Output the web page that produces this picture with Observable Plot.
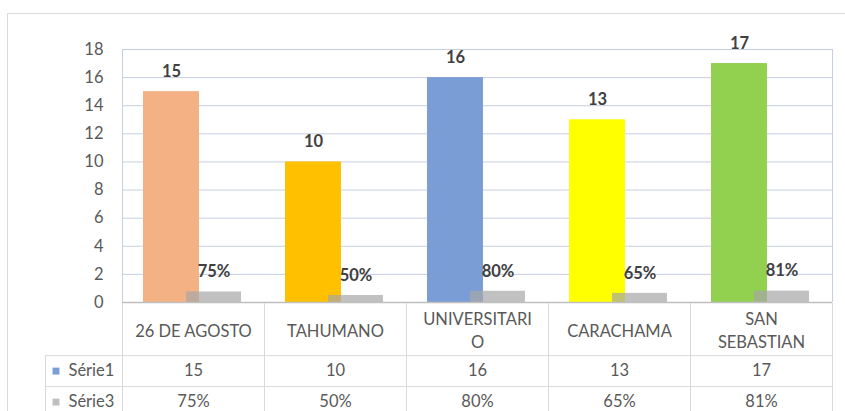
<!DOCTYPE html>
<html><head><meta charset="utf-8">
<script src="https://cdn.jsdelivr.net/npm/d3@7"></script>
<script src="https://cdn.jsdelivr.net/npm/@observablehq/plot@0.6"></script>
<style>
body{margin:0;background:#fff;font-family:Lato,sans-serif;overflow:hidden;}
#wrap{position:absolute;left:0;top:0;}
#frame{position:absolute;left:7px;top:13px;width:900px;height:500px;border:1.5px solid #d9d9d9;z-index:2;pointer-events:none;}
#wrap svg{display:block;}
</style></head><body>
<div id="wrap"></div>
<div id="frame"></div>
<script>
// ---- data ----
const categories = ["26 DE AGOSTO", "TAHUMANO", "UNIVERSITARIO", "CARACHAMA", "SAN SEBASTIAN"];
const categoryLabels = ["26 DE AGOSTO", "TAHUMANO", "UNIVERSITARI\nO", "CARACHAMA", "SAN\nSEBASTIAN"];
const serie1 = [15, 10, 16, 13, 17];
const serie3 = [0.75, 0.50, 0.80, 0.65, 0.81];
const serie3Labels = ["75%", "50%", "80%", "65%", "81%"];
const seriesNames = ["Série1", "Série3"];
const yTicks = [0, 2, 4, 6, 8, 10, 12, 14, 16, 18];

// ---- styles ----
const barColors = ["#f4b183", "#ffc000", "#7b9dd6", "#ffff00", "#92d050"];
const legendColors = ["#7b9dd6", "#bfbfbf"];
const textColor = "#595959";
const font = "Lato, sans-serif";

// layout (category units: each category is one unit wide; header column is left of 0)
const headerW = 77 / 142;
const xDomain = [-headerW, 5];
const s1 = [0.148, 0.542];
const s3 = [0.451, 0.838];

const rows1 = categories.map((c, i) => ({i, c, v: serie1[i], color: barColors[i]}));
const rows3 = categories.map((c, i) => ({i, c, v: serie3[i], label: serie3Labels[i]}));

const common = {
  width: 845, marginLeft: 45, marginRight: 13,
  x: {type: "linear", domain: xDomain, axis: null},
  color: {type: "identity"},
  style: {fontFamily: font, background: "transparent", overflow: "visible"}
};

const chart = Plot.plot({
  ...common,
  height: 303, marginTop: 49, marginBottom: 1,
  y: {domain: [0, 18], axis: null},
  marks: [
    Plot.ruleY(yTicks.filter(d => d > 0), {x1: 0, x2: 5, stroke: "#c5cee0", strokeWidth: 1}),
    Plot.ruleX([0, 5], {y1: 0, y2: 18, stroke: "#c5cee0"}),
    Plot.text(yTicks, {x: 0, y: d => d, dx: -19, textAnchor: "end", fill: textColor, fontSize: 16.5}),
    Plot.rect(rows1, {x1: d => d.i + s1[0], x2: d => d.i + s1[1], y1: 0, y2: "v", fill: "color"}),
    Plot.rect(rows3, {x1: d => d.i + s3[0], x2: d => d.i + s3[1], y1: 0, y2: "v", fill: "#a6a6a6", fillOpacity: 0.7}),
    Plot.ruleY([0], {x1: 0, x2: 5, stroke: "#bfbfbf", strokeWidth: 1.5}),
    Plot.text(rows1, {x: d => d.i + (s1[0] + s1[1]) / 2, y: "v", dy: -20, text: d => String(d.v), fontWeight: "bold", fontSize: 16.5, fill: "#404040"}),
    Plot.text(rows3, {x: d => d.i + (s3[0] + s3[1]) / 2, y: "v", dy: -20, text: "label", fontWeight: "bold", fontSize: 16.5, fill: "#404040"})
  ]
});

// table rows (in row units)
const rowEdges = [0, 1.68, 2.68, 3.68];
const tableBottom = 108 / 31;
const table = Plot.plot({
  ...common,
  height: 108, marginTop: 0, marginBottom: 0,
  y: {domain: [0, tableBottom], reverse: true, axis: null},
  marks: [
    Plot.ruleX([0, 1, 2, 3, 4, 5], {y1: 0, y2: tableBottom, stroke: "#d9d9d9"}),
    Plot.ruleX([-headerW], {y1: rowEdges[1], y2: tableBottom, stroke: "#d9d9d9"}),
    Plot.ruleY([rowEdges[1], rowEdges[2]], {x1: -headerW, x2: 5, stroke: "#d9d9d9"}),
    Plot.text(categoryLabels, {x: (d, i) => i + 0.5, y: (rowEdges[0] + rowEdges[1]) / 2, fill: textColor, fontSize: 16.5, lineHeight: 1.4}),
    Plot.text(serie1, {x: (d, i) => i + 0.5, y: (rowEdges[1] + rowEdges[2]) / 2, text: d => String(d), fill: textColor, fontSize: 16.5}),
    Plot.text(serie3Labels, {x: (d, i) => i + 0.5, y: (rowEdges[2] + rowEdges[3]) / 2, text: d => d, fill: textColor, fontSize: 16.5}),
    Plot.dot(seriesNames, {x: -headerW + 10.5 / 142, y: (d, i) => (rowEdges[i + 1] + rowEdges[i + 2]) / 2, symbol: "square", r: 3.9, fill: (d, i) => legendColors[i], stroke: "none"}),
    Plot.text(seriesNames, {x: -headerW + 23 / 142, y: (d, i) => (rowEdges[i + 1] + rowEdges[i + 2]) / 2, text: d => d, textAnchor: "start", fill: textColor, fontSize: 16.5})
  ]
});

document.getElementById("wrap").append(chart, table);
</script>
</body></html>
